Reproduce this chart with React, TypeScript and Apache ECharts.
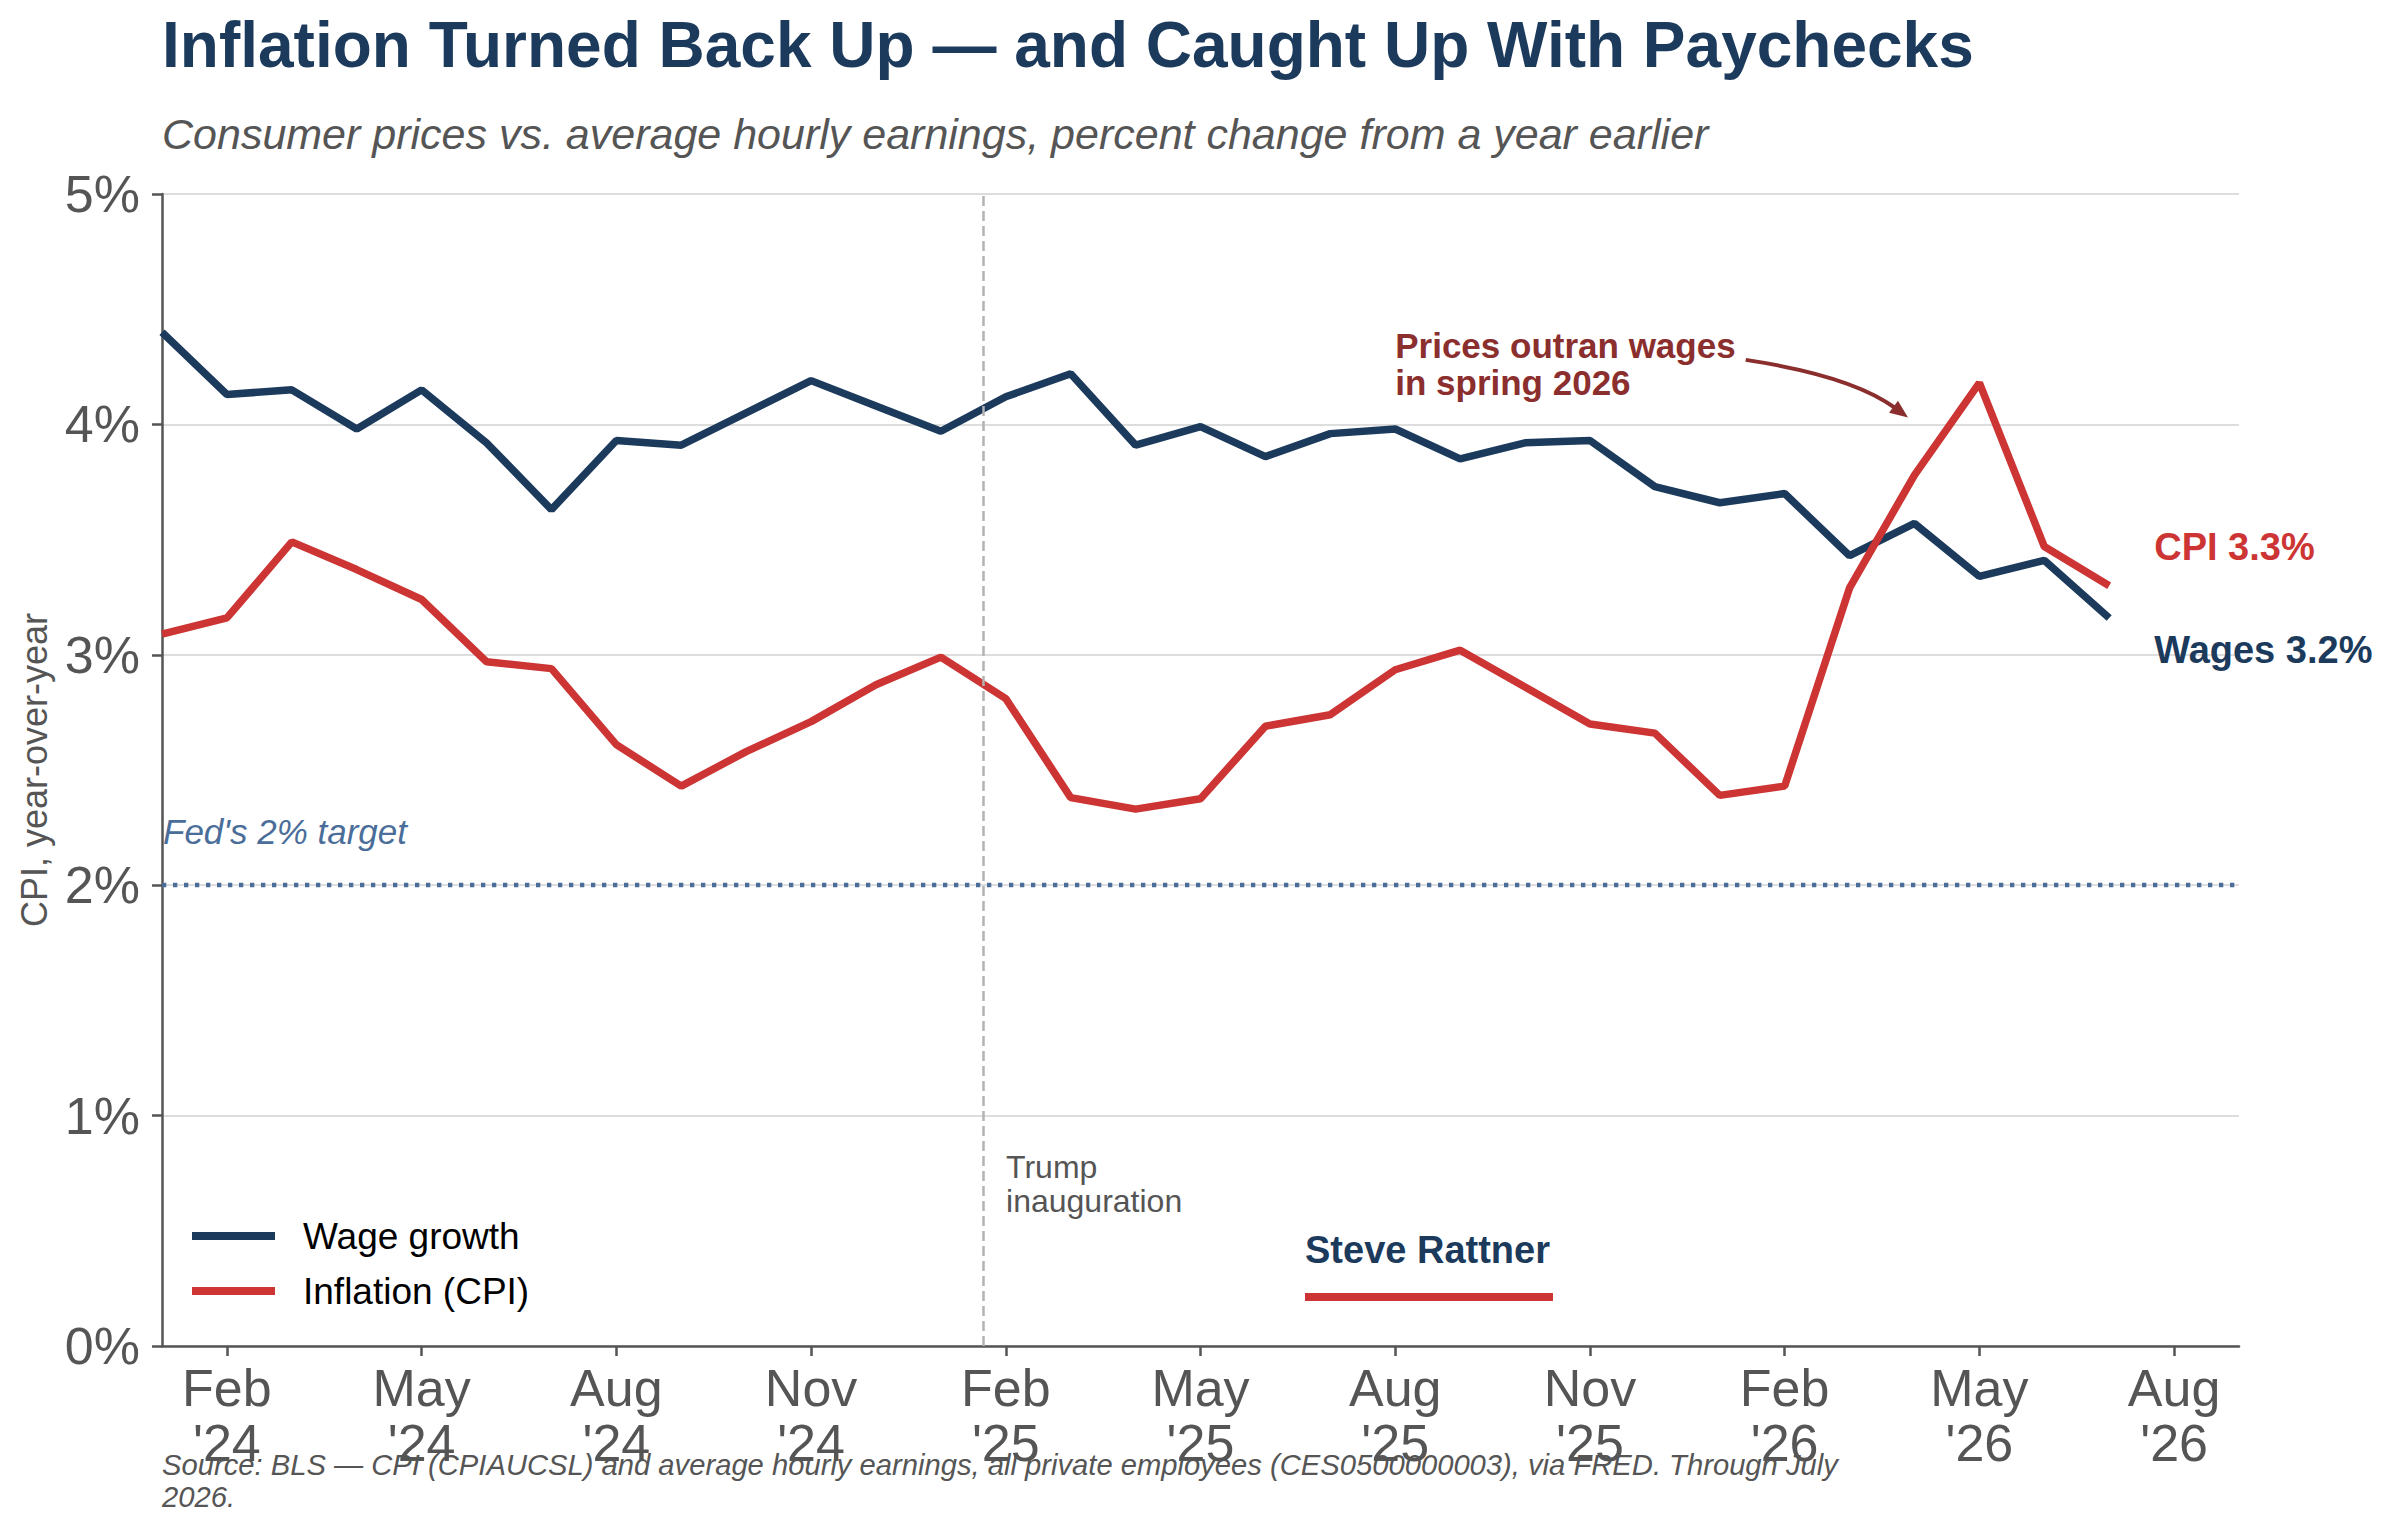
import React, { useEffect, useRef } from "react";
import * as echarts from "echarts";

// ---- data ----
const months = [
  "Jan '24", "Feb '24", "Mar '24", "Apr '24", "May '24", "Jun '24", "Jul '24", "Aug '24", "Sep '24", "Oct '24", "Nov '24", "Dec '24",
  "Jan '25", "Feb '25", "Mar '25", "Apr '25", "May '25", "Jun '25", "Jul '25", "Aug '25", "Sep '25", "Oct '25", "Nov '25", "Dec '25",
  "Jan '26", "Feb '26", "Mar '26", "Apr '26", "May '26", "Jun '26", "Jul '26", "Aug '26", "Sep '26",
];
const wageGrowth = [
  4.40, 4.13, 4.15, 3.98, 4.15, 3.92, 3.63, 3.93, 3.91, 4.05, 4.19, 4.08,
  3.97, 4.12, 4.22, 3.91, 3.99, 3.86, 3.96, 3.98, 3.85, 3.92, 3.93, 3.73,
  3.66, 3.70, 3.43, 3.57, 3.34, 3.41, 3.16,
];
const cpiInflation = [
  3.09, 3.16, 3.49, 3.37, 3.24, 2.97, 2.94, 2.61, 2.43, 2.58, 2.71, 2.87,
  2.99, 2.81, 2.38, 2.33, 2.375, 2.69, 2.74, 2.935, 3.02, 2.86, 2.70, 2.66,
  2.39, 2.43, 3.29, 3.78, 4.18, 3.47, 3.30,
];
const tickMonths = ["Feb", "May", "Aug", "Nov"];
const yMin = 0;
const yMax = 5;
const yStep = 1;
const fedTarget = 2;
const inaugurationIndex = 12.65; // Jan 20, 2025 (day-based position)

// ---- styles ----
const W = 2395;
const H = 1534;
const NAVY = "#1b3a5c";
const RED = "#cd3434";
const DARKRED = "#8b2e2e";
const FEDBLUE = "#4a6e99";
const GRAY = "#555555";
const FONT = "'Liberation Sans', Arial, sans-serif";
const CENTRAL = 0.3465;

const tickIdx = months
  .map((m, i) => (tickMonths.includes(m.split(" ")[0]) ? i : -1))
  .filter((i) => i >= 0);

function txt(x: number, baseline: number, text: string, fs: number, fill: string, extra: any = {}) {
  return {
    type: "text",
    x,
    y: baseline - CENTRAL * fs,
    silent: true,
    z: 100,
    style: {
      text,
      fill,
      fontSize: fs,
      fontFamily: FONT,
      fontWeight: extra.fontWeight || "normal",
      fontStyle: extra.fontStyle || "normal",
      align: extra.align || "left",
      verticalAlign: "middle",
    },
  };
}

function mtxt(x: number, baseline1: number, text: string, fs: number, lh: number, fill: string, extra: any = {}) {
  return {
    type: "text",
    x,
    y: baseline1 - CENTRAL * fs - lh / 2,
    silent: true,
    z: 100,
    style: {
      text,
      fill,
      fontSize: fs,
      lineHeight: lh,
      fontFamily: FONT,
      fontWeight: extra.fontWeight || "normal",
      fontStyle: extra.fontStyle || "normal",
      align: "left",
      verticalAlign: "top",
    },
  };
}

export default function App() {
  const ref = useRef<HTMLDivElement>(null);

  useEffect(() => {
    document.body.style.margin = "0";
    const chart = echarts.init(ref.current!, undefined, { renderer: "svg", width: W, height: H });
    const last = wageGrowth.length - 1;

    const option: any = {
      animation: false,
      backgroundColor: "#ffffff",
      textStyle: { fontFamily: FONT },
      title: [
        {
          text: "Inflation Turned Back Up — and Caught Up With Paychecks",
          left: 162,
          top: 13,
          padding: 0,
          textStyle: { fontSize: 64, fontWeight: "bold", color: NAVY, lineHeight: 64, fontFamily: FONT },
        },
        {
          text: "Consumer prices vs. average hourly earnings, percent change from a year earlier",
          left: 162,
          top: 112,
          padding: 0,
          textStyle: { fontSize: 43, fontWeight: "normal", fontStyle: "italic", color: GRAY, lineHeight: 43, fontFamily: FONT },
        },
      ],
      legend: {
        data: ["Wage growth", "Inflation (CPI)"],
        orient: "vertical",
        left: 192,
        top: 1216,
        padding: 0,
        itemWidth: 83,
        itemHeight: 8,
        itemGap: 15,
        icon: "rect",
        selectedMode: false,
        textStyle: { fontSize: 37, color: "#000000", lineHeight: 40, padding: [0, 0, 0, 23], fontFamily: FONT },
      },
      grid: { left: 162, right: 156, top: 194, bottom: 188, containLabel: false },
      xAxis: {
        type: "value",
        min: 0,
        max: months.length - 1,
        axisLine: { show: true, onZero: false, lineStyle: { color: GRAY, width: 2.5 } },
        axisTick: { show: true, customValues: tickIdx, length: 10, lineStyle: { color: GRAY, width: 2.5 } },
        axisLabel: {
          customValues: tickIdx,
          formatter: (v: number) => months[Math.round(v)].replace(" ", "\n"),
          fontSize: 52,
          lineHeight: 55,
          color: GRAY,
          margin: 14,
          fontFamily: FONT,
        },
        splitLine: { show: false },
      },
      yAxis: {
        type: "value",
        min: yMin,
        max: yMax,
        interval: yStep,
        name: "CPI, year-over-year",
        nameLocation: "middle",
        nameGap: 110,
        nameTextStyle: { fontSize: 36, color: GRAY, fontFamily: FONT },
        axisLine: { show: true, lineStyle: { color: GRAY, width: 2.5 } },
        axisTick: { show: true, length: 10, lineStyle: { color: GRAY, width: 2.5 } },
        axisLabel: { formatter: "{value}%", fontSize: 52, color: GRAY, margin: 22, fontFamily: FONT },
        splitLine: { show: true, lineStyle: { color: "#dddddd", width: 2 } },
      },
      series: [
        {
          name: "reference",
          type: "line",
          data: [],
          silent: true,
          z: 1,
          markLine: {
            silent: true,
            symbol: ["none", "none"],
            label: { show: false },
            emphasis: { disabled: true },
            data: [
              { yAxis: fedTarget, lineStyle: { type: [4.3, 6.7], color: FEDBLUE, width: 4.3 } },
              { xAxis: inaugurationIndex, lineStyle: { type: [10, 5], color: "#b3b3b3", width: 2.5 } },
            ],
          },
        },
        {
          name: "Wage growth",
          type: "line",
          data: wageGrowth.map((v, i) => [i, v]),
          symbol: "none",
          color: NAVY,
          itemStyle: { color: NAVY },
          lineStyle: { color: NAVY, width: 7.5 },
          z: 3,
        },
        {
          name: "Inflation (CPI)",
          type: "line",
          data: cpiInflation.map((v, i) => [i, v]),
          symbol: "none",
          color: RED,
          itemStyle: { color: RED },
          lineStyle: { color: RED, width: 7.5 },
          z: 4,
        },
      ],
    };
    chart.setOption(option);

    const px = (x: number, y: number) => chart.convertToPixel({ gridIndex: 0 }, [x, y]) as number[];

    const fed = px(0, fedTarget);
    const inaug = px(inaugurationIndex, 0);
    const ann = px(19, 4.29);
    const arrowStart = px(24.4, 4.28);
    const arrowTip = px(26.9, 4.03);
    const ctrl = [arrowStart[0] + 106, arrowStart[1] + 16];
    const dx = arrowTip[0] - ctrl[0];
    const dy = arrowTip[1] - ctrl[1];
    const dl = Math.hypot(dx, dy);
    const ux = dx / dl;
    const uy = dy / dl;
    const headL = 18;
    const headW = 7.5;
    const base = [arrowTip[0] - headL * ux, arrowTip[1] - headL * uy];
    const cpiEnd = px(last, cpiInflation[last]);
    const wageEnd = px(last, wageGrowth[last]);

    const graphic: any[] = [
      txt(fed[0] + 1, fed[1] - 42, "Fed's 2% target", 35, FEDBLUE, { fontStyle: "italic" }),
      mtxt(inaug[0] + 23, inaug[1] - 168, "Trump\ninauguration", 32, 34, GRAY),
      mtxt(ann[0], ann[1], "Prices outran wages\nin spring 2026", 35, 37, DARKRED, { fontWeight: "bold" }),
      {
        type: "bezierCurve",
        silent: true,
        z: 100,
        shape: {
          x1: arrowStart[0],
          y1: arrowStart[1],
          x2: base[0] + 2 * ux,
          y2: base[1] + 2 * uy,
          cpx1: ctrl[0],
          cpy1: ctrl[1],
        },
        style: { stroke: DARKRED, lineWidth: 4, fill: null },
      },
      {
        type: "polygon",
        silent: true,
        z: 100,
        shape: {
          points: [
            [arrowTip[0], arrowTip[1]],
            [base[0] - headW * uy, base[1] + headW * ux],
            [base[0] + headW * uy, base[1] - headW * ux],
          ],
        },
        style: { fill: DARKRED },
      },
      txt(cpiEnd[0] + 45, cpiEnd[1] - 26, `CPI ${cpiInflation[last].toFixed(1)}%`, 38, RED, { fontWeight: "bold" }),
      txt(wageEnd[0] + 45, wageEnd[1] + 45, `Wages ${wageGrowth[last].toFixed(1)}%`, 38, NAVY, { fontWeight: "bold" }),
      txt(1305, 1263, "Steve Rattner", 38, NAVY, { fontWeight: "bold" }),
      { type: "rect", silent: true, z: 100, shape: { x: 1305, y: 1293, width: 248, height: 8 }, style: { fill: RED } },
      mtxt(
        162,
        1475,
        "Source: BLS — CPI (CPIAUCSL) and average hourly earnings, all private employees (CES0500000003), via FRED. Through July\n2026.",
        29.2,
        32,
        GRAY,
        { fontStyle: "italic" }
      ),
    ];
    chart.setOption({ graphic });

    return () => chart.dispose();
  }, []);

  return <div ref={ref} style={{ width: W, height: H }} />;
}
